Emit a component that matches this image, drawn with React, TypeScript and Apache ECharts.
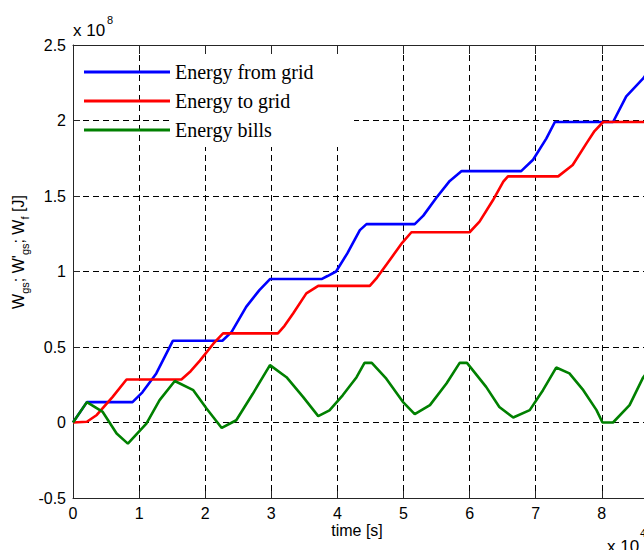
import React, { useEffect, useRef } from 'react';
import * as echarts from 'echarts';

// time in units of 1e4 s, energy in units of 1e8 J
const energyFromGrid: [number, number][] = [
  [0, 0], [0.21, 0.135], [0.9, 0.135], [1.05, 0.2], [1.26, 0.325], [1.51, 0.541],
  [2.26, 0.541], [2.4, 0.6], [2.62, 0.766], [2.82, 0.877], [2.98, 0.95],
  [3.76, 0.95], [3.85, 0.97], [3.98, 1.0], [4.15, 1.12], [4.34, 1.274], [4.44, 1.314],
  [5.17, 1.314], [5.3, 1.37], [5.5, 1.49], [5.7, 1.6], [5.88, 1.665],
  [6.78, 1.665], [6.96, 1.74], [7.16, 1.88], [7.29, 1.99],
  [8.17, 1.99], [8.37, 2.16], [8.63, 2.28], [8.75, 2.36]
];

const energyToGrid: [number, number][] = [
  [0, 0], [0.21, 0.005], [0.36, 0.05], [0.6, 0.17], [0.81, 0.285],
  [1.64, 0.285], [1.78, 0.34], [1.92, 0.41], [2.12, 0.52], [2.27, 0.59],
  [3.1, 0.59], [3.2, 0.64], [3.33, 0.722], [3.53, 0.855], [3.71, 0.905],
  [4.49, 0.905], [4.6, 0.96], [4.79, 1.075], [4.98, 1.19], [5.12, 1.26],
  [6.0, 1.26], [6.15, 1.33], [6.35, 1.47], [6.51, 1.595], [6.58, 1.63],
  [7.34, 1.63], [7.56, 1.705], [7.77, 1.85], [7.89, 1.93], [8.02, 1.99],
  [8.75, 1.99]
];

const energyBills: [number, number][] = [
  [0, 0], [0.21, 0.135], [0.45, 0.07], [0.66, -0.073], [0.83, -0.14],
  [1.11, -0.007], [1.31, 0.148], [1.54, 0.275], [1.82, 0.214], [2.02, 0.093],
  [2.25, -0.036], [2.47, 0.015], [2.72, 0.19], [2.98, 0.38], [3.23, 0.3],
  [3.48, 0.17], [3.71, 0.042], [3.88, 0.08], [4.08, 0.18], [4.29, 0.3],
  [4.41, 0.395], [4.52, 0.395], [4.74, 0.29], [4.99, 0.137], [5.17, 0.055],
  [5.4, 0.115], [5.65, 0.258], [5.85, 0.395], [5.96, 0.395], [6.25, 0.236],
  [6.45, 0.103], [6.66, 0.033], [6.91, 0.082], [7.11, 0.214], [7.31, 0.364],
  [7.51, 0.325], [7.72, 0.214], [7.92, 0.082], [8.01, 0.0], [8.17, 0.0],
  [8.42, 0.115], [8.62, 0.294], [8.75, 0.37]
];

const seriesNames = ['Energy from grid', 'Energy to grid', 'Energy bills'];
const seriesColors = ['#0000ff', '#ff0000', '#008000'];
const xTickLabels = ['0', '1', '2', '3', '4', '5', '6', '7', '8', '', ''];

const SANS = '"Liberation Sans", Arial, sans-serif';
const SERIF = '"Liberation Serif", "Times New Roman", serif';

export default function App() {
  const ref = useRef<HTMLDivElement>(null);
  useEffect(() => {
    if (!ref.current) return;
    const chart = echarts.init(ref.current, undefined, { renderer: 'svg' });
    const gridDash = { type: [6, 4] as any, color: '#000', width: 1 };
    const datasets = [energyFromGrid, energyToGrid, energyBills];
    const txt = (text: string, x: number, y: number, size: number, align = 'left') => ({
      type: 'text', x, y,
      style: { text, font: size + 'px ' + SANS, fill: '#000', align, verticalAlign: 'middle', textAlign: align, textVerticalAlign: 'middle' }
    });
    chart.setOption({
      animation: false,
      backgroundColor: '#fff',
      textStyle: { fontFamily: SANS },
      grid: { left: 73, top: 45, width: 661, height: 453, containLabel: false, outerBoundsMode: 'none' },
      xAxis: [
        {
          type: 'value', min: 0, max: 10, interval: 1, position: 'bottom',
          axisLine: { show: true, onZero: false, lineStyle: { color: '#262626', width: 1 } },
          axisTick: { show: true, inside: true, length: 7, lineStyle: { color: '#262626' } },
          axisLabel: {
            color: '#000', fontSize: 16, fontFamily: SANS, margin: 7,
            formatter: (v: number) => xTickLabels[Math.round(v)] ?? ''
          },
          splitLine: { show: true, lineStyle: gridDash }
        },
        {
          type: 'value', min: 0, max: 10, interval: 1, position: 'top',
          axisLine: { show: true, onZero: false, lineStyle: { color: '#262626', width: 1 } },
          axisTick: { show: true, inside: true, length: 9, lineStyle: { color: '#262626' } },
          axisLabel: { show: false },
          splitLine: { show: false }
        }
      ],
      yAxis: {
        type: 'value', min: -0.5, max: 2.5, interval: 0.5,
        axisLine: { show: true, onZero: false, lineStyle: { color: '#262626', width: 1 } },
        axisTick: { show: true, inside: true, length: 7, lineStyle: { color: '#262626' } },
        axisLabel: { color: '#000', fontSize: 16, fontFamily: SANS, margin: 7 },
        splitLine: { show: true, lineStyle: gridDash }
      },
      legend: {
        orient: 'vertical', left: 79, top: 56, z: 20,
        icon: 'rect',
        itemWidth: 86, itemHeight: 3, itemGap: 7,
        data: seriesNames,
        textStyle: { fontFamily: SERIF, fontSize: 20, color: '#000', lineHeight: 22 }
      },
      graphic: [
        { type: 'rect', z: 10, shape: { x: 172, y: 55, width: 182, height: 92 }, style: { fill: '#fff' } },
        txt('x 10', 73, 30, 17),
        txt('8', 107, 20, 11),
        txt('x 10', 607, 546, 17),
        txt('4', 640, 533, 11),
        txt('time [s]', 357, 530, 16, 'center'),
        {
          type: 'text', x: 22, y: 252, rotation: Math.PI / 2,
          style: {
            text: "{w|W}{s|gs}{w|; W'}{s|gs}{w|; W}{s|f}{w| [J]}",
            align: 'center', verticalAlign: 'middle', textAlign: 'center', textVerticalAlign: 'middle',
            fill: '#000',
            rich: {
              w: { fontSize: 16, fontFamily: SANS, lineHeight: 16, padding: [0, 0, 4, 0], verticalAlign: 'bottom', color: '#000' },
              s: { fontSize: 11, fontFamily: SANS, lineHeight: 11, verticalAlign: 'bottom', color: '#000' }
            }
          }
        }
      ],
      series: datasets.map((d, i) => ({
        name: seriesNames[i],
        type: 'line',
        xAxisIndex: 0,
        data: d,
        showSymbol: false,
        symbol: 'none',
        color: seriesColors[i],
        lineStyle: { color: seriesColors[i], width: 2.6 },
        z: 3
      }))
    });
    return () => chart.dispose();
  }, []);
  return <div ref={ref} style={{ position: 'fixed', left: 0, top: 0, width: 760, height: 550 }} />;
}
